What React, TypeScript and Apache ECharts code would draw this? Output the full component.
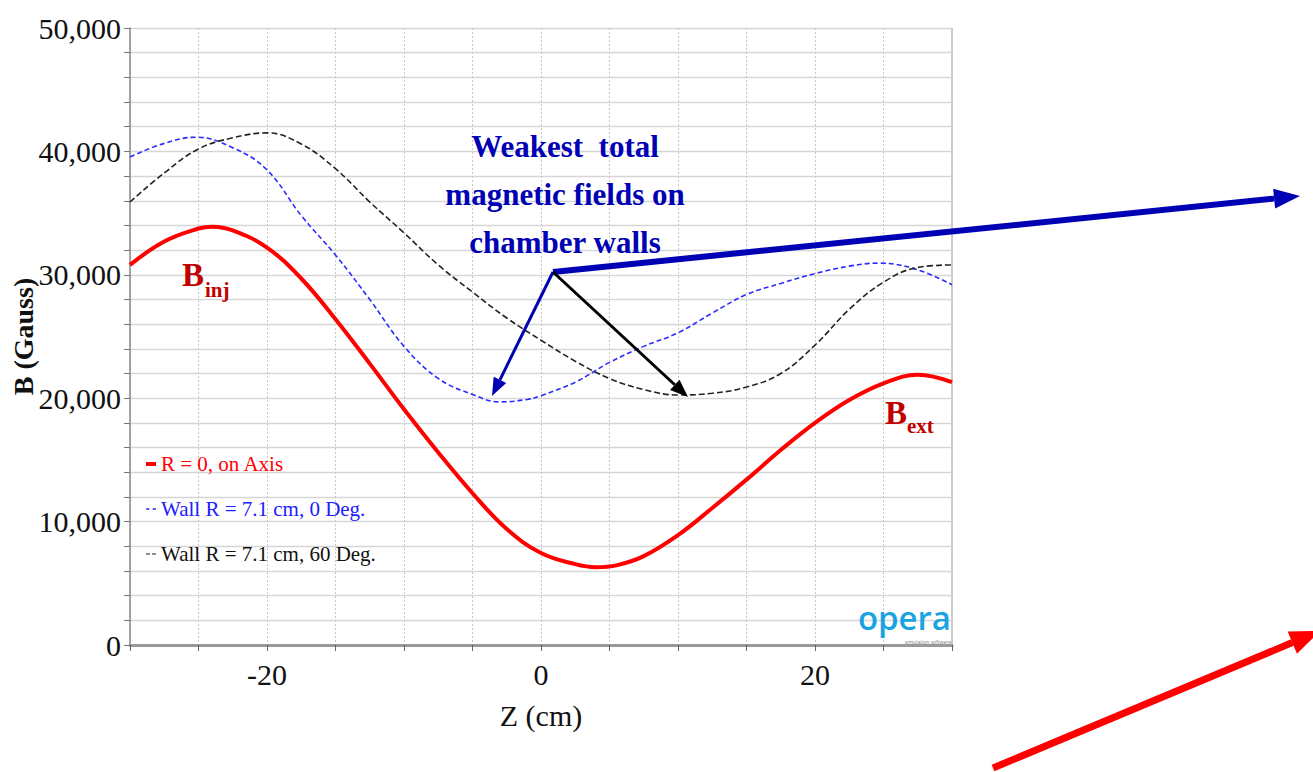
import React, { useEffect, useRef } from "react";
import * as echarts from "echarts";

// ---- Data ----
const seriesNames = ["R = 0, on Axis", "Wall R = 7.1 cm, 0 Deg.", "Wall R = 7.1 cm, 60 Deg."];

const zAxisR0 = [-30, -27.5, -25, -24, -22.5, -20, -17.5, -15, -12.5, -10, -7.5, -5, -2.5, 0, 2.5, 4, 5.5, 7.5, 10, 12.5, 15, 17.5, 20, 22.5, 25, 27.5, 30];
const bAxisR0 = [30800, 32700, 33750, 33900, 33600, 32200, 29700, 26400, 22800, 19100, 15600, 12300, 9400, 7450, 6550, 6300, 6450, 7200, 8900, 11100, 13400, 15800, 18000, 19850, 21200, 21900, 21300];

const zWall0 = [-30, -27.5, -25.2, -22.5, -20, -17.5, -15, -12.5, -10, -7.5, -5, -3, -1, 0, 2.5, 5, 7.5, 10, 12.5, 15, 17.5, 20, 22.5, 24.7, 27.5, 30];
const bWall0 = [39550, 40650, 41150, 40300, 38500, 34800, 31600, 28000, 24200, 21600, 20300, 19700, 19900, 20200, 21300, 22900, 24200, 25300, 26900, 28400, 29300, 30100, 30700, 30950, 30400, 29200];

const zWall60 = [-30, -27.5, -25, -22.5, -20, -17.5, -15, -12.5, -10, -7.5, -5, -2.5, 0, 2.5, 5, 7.5, 10, 12.5, 15, 17.5, 20, 22.5, 25, 27.5, 30];
const bWall60 = [35900, 38250, 40200, 41100, 41500, 40600, 38600, 35900, 33400, 30800, 28600, 26500, 24700, 23000, 21600, 20700, 20260, 20400, 20900, 22000, 24300, 27200, 29400, 30600, 30800];

const xTickLabels = [-20, 0, 20];
const yTickLabels = [0, 10000, 20000, 30000, 40000, 50000];

const zip = (xs: number[], ys: number[]) => xs.map((x, i) => [x, ys[i]]);

function arrow(x1: number, y1: number, x2: number, y2: number, color: string, width: number, headLen: number, headW: number) {
  const ang = Math.atan2(y2 - y1, x2 - x1);
  const bx = x2 - headLen * Math.cos(ang);
  const by = y2 - headLen * Math.sin(ang);
  const px = -Math.sin(ang) * headW / 2;
  const py = Math.cos(ang) * headW / 2;
  return [
    { type: "line", shape: { x1, y1, x2: bx, y2: by }, style: { stroke: color, lineWidth: width }, z: 100 },
    {
      type: "polygon",
      shape: { points: [[x2, y2], [bx + px, by + py], [bx - px, by - py]] },
      style: { fill: color },
      z: 100,
    },
  ];
}

export default function App() {
  const ref = useRef<HTMLDivElement>(null);
  useEffect(() => {
    document.body.style.margin = "0";
    const chart = echarts.init(ref.current!, undefined, { renderer: "svg" });
    const serif = "Liberation Serif";
    const darkRed = "#c00000";
    const option: any = {
      animation: false,
      backgroundColor: "#ffffff",
      grid: { left: 130, right: 361, top: 28, bottom: 127, show: false, containLabel: false, outerBoundsMode: "none" },
      legend: {
        orient: "vertical",
        left: 141,
        top: 447,
        itemGap: 21,
        itemWidth: 10,
        itemHeight: 4,
        selectedMode: false,
        textStyle: { fontFamily: serif, fontSize: 21, lineHeight: 24 },
        data: [
          { name: seriesNames[0], icon: "rect", itemStyle: { color: "#ff0000" }, textStyle: { color: "#ff0000" } },
          { name: seriesNames[1], icon: "path://M0,0h2v1h-2zM4,0h2v1h-2z", itemStyle: { color: "#2b2bff" }, textStyle: { color: "#2020ff" } },
          { name: seriesNames[2], icon: "path://M0,0h4v1h-4zM6,0h4v1h-4z", itemStyle: { color: "#222" }, textStyle: { color: "#111" } },
        ],
      },
      xAxis: {
        type: "value",
        min: -30,
        max: 30,
        interval: 5,
        name: "Z (cm)",
        nameLocation: "middle",
        nameGap: 55,
        nameMoveOverlap: false,
        nameTextStyle: { fontFamily: serif, fontSize: 30, color: "#111" },
        axisLine: { show: true, onZero: false, lineStyle: { color: "#999", width: 3 } },
        axisTick: { show: true, length: 6, lineStyle: { color: "#666" } },
        axisLabel: {
          fontFamily: serif,
          fontSize: 30,
          color: "#111",
          margin: 14,
          formatter: (v: number) => (xTickLabels.indexOf(v) >= 0 ? String(v) : ""),
        },
        splitLine: { show: true, lineStyle: { color: "#c8c8c8", type: [2, 2], width: 1 } },
      },
      yAxis: {
        type: "value",
        min: 0,
        max: 50000,
        interval: 2000,
        name: "B (Gauss)",
        nameLocation: "middle",
        nameRotate: 90,
        nameGap: 93,
        nameMoveOverlap: false,
        nameTextStyle: { fontFamily: serif, fontSize: 28, color: "#111", fontWeight: "bold" },
        axisLine: { show: true, onZero: false, lineStyle: { color: "#888", width: 1.5 } },
        axisTick: { show: true, length: 6, lineStyle: { color: "#777" } },
        axisLabel: {
          fontFamily: serif,
          fontSize: 30,
          color: "#111",
          margin: 9,
          formatter: (v: number) => (yTickLabels.indexOf(v) >= 0 ? v.toLocaleString("en-US") : ""),
        },
        splitLine: { show: true, lineStyle: { color: "#d6d6d6", width: 1.3 } },
      },
      series: [
        {
          name: seriesNames[0],
          type: "line",
          data: zip(zAxisR0, bAxisR0),
          smooth: 0.4,
          showSymbol: false,
          symbol: "none",
          itemStyle: { color: "#ff0000" },
          lineStyle: { color: "#ff0000", width: 4 },
          z: 5,
        },
        {
          name: seriesNames[1],
          type: "line",
          data: zip(zWall0, bWall0),
          smooth: 0.4,
          showSymbol: false,
          symbol: "none",
          itemStyle: { color: "#2b2bff" },
          lineStyle: { color: "#2b2bff", width: 1.6, type: [5, 3] },
          z: 4,
        },
        {
          name: seriesNames[2],
          type: "line",
          data: zip(zWall60, bWall60),
          smooth: 0.4,
          showSymbol: false,
          symbol: "none",
          itemStyle: { color: "#222" },
          lineStyle: { color: "#222", width: 1.6, type: [6, 3] },
          z: 4,
        },
      ],
      graphic: [
        // right border of the plot
        { type: "line", shape: { x1: 952, y1: 28, x2: 952, y2: 645 }, style: { stroke: "#b8b8b8", lineWidth: 1.5 } },
        // B_inj label
        { type: "text", x: 182, y: 258, style: { text: "B", fontFamily: serif, fontSize: 33, fontWeight: "bold", fill: darkRed }, z: 60 },
        { type: "text", x: 205, y: 279, style: { text: "inj", fontFamily: serif, fontSize: 21, fontWeight: "bold", fill: darkRed }, z: 60 },
        // B_ext label
        { type: "text", x: 885, y: 396, style: { text: "B", fontFamily: serif, fontSize: 33, fontWeight: "bold", fill: darkRed }, z: 60 },
        { type: "text", x: 907, y: 415, style: { text: "ext", fontFamily: serif, fontSize: 21, fontWeight: "bold", fill: darkRed }, z: 60 },
        // annotation text
        {
          type: "text",
          x: 565,
          y: 122,
          style: {
            text: "Weakest  total\nmagnetic fields on\nchamber walls",
            fontFamily: serif,
            fontSize: 31,
            fontWeight: "bold",
            fill: "#0000b4",
            align: "center",
            verticalAlign: "top",
            lineHeight: 48,
          },
          z: 100,
        },
        ...arrow(553, 272, 1300, 196, "#0000b4", 6, 26, 20),
        ...arrow(553, 272, 492, 396, "#0000b4", 3, 18, 14),
        ...arrow(553, 272, 688, 397, "#000000", 3, 18, 14),
        ...arrow(993, 768, 1320, 631, "#ff0000", 7, 30, 24),
        // opera logo
        {
          type: "text",
          right: 1313 - 951,
          top: 601,
          style: { text: "opera", fontFamily: "Open Sans", fontSize: 33, fontWeight: 600, fill: "#1aa3e3", lineHeight: 30 },
          z: 50,
        },
        {
          type: "text",
          right: 1313 - 951,
          top: 639,
          style: { text: "simulation software", fontFamily: "Open Sans", fontSize: 5, fill: "#777" },
          z: 50,
        },
      ],
    };
    chart.setOption(option);
    return () => chart.dispose();
  }, []);
  return <div ref={ref} style={{ width: 1313, height: 772 }} />;
}
